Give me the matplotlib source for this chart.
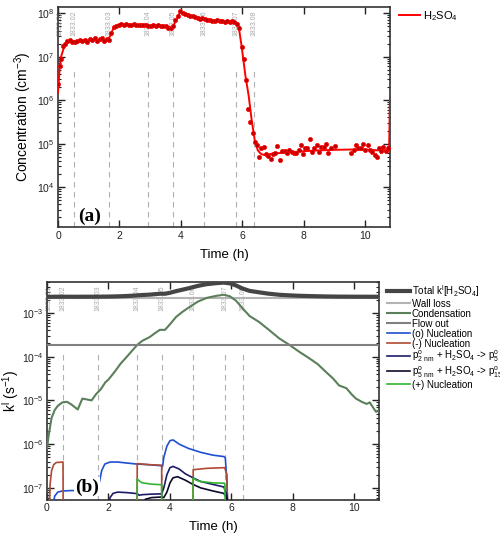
import numpy as np
import matplotlib
matplotlib.use('Agg')
import matplotlib.pyplot as plt
from matplotlib.ticker import NullLocator, LogLocator

plt.rcParams['font.family'] = ['Liberation Sans', 'DejaVu Sans']
plt.rcParams['mathtext.default'] = 'regular'

# runs
run_names = ['1833.01', '1833.02', '1833.03', '1833.04', '1833.05', '1833.06', '1833.07', '1833.08']
run_starts = [0.05, 0.52, 1.66, 2.93, 3.74, 4.76, 5.79, 6.38]

# panel (a): measured H2SO4 (points)
t_meas = [0.00, 0.05, 0.10, 0.15, 0.22, 0.30, 0.38, 0.46, 0.55, 0.63, 0.71, 0.79, 0.87, 0.95,
          1.03, 1.11, 1.19, 1.27, 1.35, 1.43, 1.51, 1.59, 1.66, 1.74, 1.82, 1.90, 1.98, 2.06,
          2.14, 2.22, 2.30, 2.38, 2.46, 2.54, 2.62, 2.70, 2.78, 2.86, 2.94, 3.02, 3.10, 3.18,
          3.26, 3.34, 3.42, 3.50, 3.58, 3.66, 3.74, 3.82, 3.90, 3.98, 4.06, 4.14, 4.22, 4.30,
          4.38, 4.46, 4.54, 4.62, 4.70, 4.78, 4.86, 4.94, 5.02, 5.10, 5.18, 5.26, 5.34, 5.42,
          5.50, 5.58, 5.66, 5.74, 5.82, 5.89, 5.97, 6.05, 6.12, 6.17, 6.25, 6.33, 6.40, 6.47,
          6.55, 6.61, 6.69, 6.77, 6.84, 6.92, 6.99, 7.07, 7.14, 7.22, 7.30, 7.37, 7.45, 7.53,
          7.60, 7.68, 7.75, 7.83, 7.90, 7.96, 8.04, 8.11, 8.19, 8.26, 8.34, 8.42, 8.49, 8.57,
          8.64, 8.72, 8.79, 8.87, 9.01, 9.54, 9.62, 9.70, 9.77, 9.85, 9.92, 10.00, 10.07, 10.15,
          10.22, 10.30, 10.37, 10.43, 10.51, 10.58, 10.66, 10.72]
c_meas = [2.3e6, 6e6, 9e6, 1.8e7, 2.0e7, 2.3e7, 2.4e7, 2.2e7, 2.2e7, 2.3e7, 2.4e7, 2.3e7, 2.4e7, 2.2e7,
          2.6e7, 2.4e7, 2.7e7, 2.3e7, 2.5e7, 2.7e7, 2.3e7, 2.5e7, 2.4e7, 3.5e7, 4.8e7, 5.2e7, 5.5e7, 5.6e7,
          5.3e7, 5.7e7, 5.5e7, 5.4e7, 5.8e7, 5.5e7, 5.4e7, 5.5e7, 5.3e7, 5.4e7, 5.2e7, 5.0e7, 5.4e7, 5.1e7,
          5.3e7, 5.0e7, 5.2e7, 5.0e7, 4.7e7, 4.5e7, 5.0e7, 7.0e7, 8.5e7, 1.1e8, 1.0e8, 9.5e7, 9.0e7, 8.5e7,
          8.7e7, 8.0e7, 7.8e7, 7.5e7, 7.6e7, 7.2e7, 7.0e7, 7.1e7, 6.8e7, 6.6e7, 6.9e7, 6.5e7, 6.6e7, 6.4e7,
          6.7e7, 6.3e7, 6.5e7, 6.2e7, 5.8e7, 4.5e7, 1.7e7, 9e6, 2.9e6, 6.2e5, 3.2e5, 1.8e5, 1.1e5, 9.3e4,
          5.0e4, 7.8e4, 8.2e4, 5.8e4, 5.2e4, 4.5e4, 5.8e4, 6.0e4, 9.0e4, 4.2e4, 6.9e4, 6.9e4, 6.0e4, 7.1e4,
          6.3e4, 6.0e4, 6.2e4, 7.1e4, 9.1e4, 5.8e4, 7.8e4, 7.8e4, 1.25e5, 6.4e4, 7.8e4, 9.5e4, 6.4e4, 8.2e4,
          8.2e4, 1.0e5, 6.0e4, 7.8e4, 9.0e4, 6.2e4, 7.3e4, 9.5e4, 7.8e4, 7.8e4, 1.0e5, 7.1e4, 9.3e4, 7.1e4,
          6.4e4, 5.6e4, 4.8e4, 8.0e4, 6.9e4, 8.2e4, 6.9e4, 7.8e4]

# panel (a): fitted line
t_fit = [0.00, 0.05, 0.10, 0.20, 0.30, 0.50, 1.00, 1.60, 1.70, 1.80, 1.90, 2.10, 3.00, 3.60, 3.72,
         3.85, 3.98, 4.20, 4.60, 5.00, 5.50, 5.80, 5.88, 5.97, 6.10, 6.20, 6.30, 6.40, 6.50, 6.60,
         6.70, 7.00, 7.50, 8.00, 8.50, 9.00, 9.50, 10.00, 10.40, 10.70, 10.77, 10.80]
c_fit = [1.5e6, 5e6, 1e7, 1.7e7, 2.1e7, 2.3e7, 2.4e7, 2.4e7, 3.0e7, 4.5e7, 5.2e7, 5.5e7, 5.2e7, 4.8e7, 4.6e7,
         7e7, 1.1e8, 9.2e7, 7.8e7, 7.0e7, 6.5e7, 6.2e7, 4.8e7, 1.8e7, 3.5e6, 1.3e6, 3.5e5, 1.2e5, 7e4, 5.8e4,
         5.5e4, 5.9e4, 6.3e4, 6.7e4, 7.0e4, 7.2e4, 7.3e4, 7.3e4, 7.0e4, 6.9e4, 7.0e4, 1.2e6]

# panel (b): loss rates
wall_loss = 2.15e-3
flow_out = 1.85e-4
t_cond = [0.00, 0.05, 0.10, 0.15, 0.25, 0.35, 0.50, 0.65, 0.80, 1.00, 1.15, 1.30, 1.45, 1.60, 1.75,
          1.90, 2.00, 2.20, 2.40, 2.60, 2.80, 2.95, 3.10, 3.34, 3.50, 3.67, 3.84, 4.00, 4.20, 4.40,
          4.64, 4.90, 5.19, 5.50, 5.75, 5.95, 6.15, 6.35, 6.59, 6.90, 7.20, 7.56, 7.89, 8.20, 8.50,
          8.80, 9.10, 9.30, 9.50, 9.74, 9.90, 10.05, 10.25, 10.40, 10.50, 10.60, 10.70, 10.80]
k_cond = [8e-7, 1.5e-6, 2.5e-6, 4.0e-6, 6.0e-6, 7.5e-6, 9.0e-6, 9.3e-6, 8.0e-6, 6.2e-6, 1.1e-5, 1.05e-5, 1.0e-5, 1.4e-5, 1.8e-5,
          2.6e-5, 3.0e-5, 4.5e-5, 7e-5, 1.0e-4, 1.45e-4, 1.9e-4, 2.3e-4, 2.8e-4, 3.4e-4, 4.1e-4, 4.1e-4, 5.5e-4, 8.1e-4, 1.05e-3,
          1.37e-3, 1.8e-3, 2.2e-3, 2.45e-3, 2.6e-3, 2.4e-3, 1.9e-3, 1.3e-3, 8.5e-4, 6.2e-4, 4.2e-4, 2.6e-4, 1.85e-4, 1.3e-4, 9.5e-5,
          6.8e-5, 4.3e-5, 3.2e-5, 2.2e-5, 1.9e-5, 1.4e-5, 1.1e-5, 9.2e-6, 8.3e-6, 9e-6, 7e-6, 5.5e-6, 5.8e-6]

t_nuc0 = [0.15, 0.20, 0.25, 0.35, 0.50, 0.80, 1.20, 1.62, 1.70, 1.78, 1.88, 2.05, 2.30, 2.60, 2.93,
          3.30, 3.73, 3.76, 3.80, 3.90, 4.00, 4.10, 4.30, 4.60, 5.00, 5.40, 5.75, 5.80, 5.85, 5.90]
k_nuc0 = [1e-8, 4e-8, 6.5e-8, 8e-8, 8.5e-8, 8.7e-8, 8.5e-8, 8.2e-8, 1.3e-7, 2.5e-7, 3.5e-7, 3.9e-7, 3.9e-7, 3.7e-7, 3.5e-7,
          3.4e-7, 3.2e-7, 3.1e-7, 5e-7, 9e-7, 1.2e-6, 1.25e-6, 1.0e-6, 8e-7, 6.5e-7, 5.6e-7, 5.2e-7, 4.9e-7, 1.5e-7, 1e-8]

t_nucm = [0.05, 0.10, 0.15, 0.22, 0.30, 0.52, 0.53, np.nan, 2.93, 2.935, 3.30, 3.73, 3.735, np.nan,
          4.75, 4.755, 5.20, 5.78, 5.85, 5.90]
k_nucm = [1e-8, 1.2e-7, 2.5e-7, 3.4e-7, 3.8e-7, 3.9e-7, 1e-8, np.nan, 1e-8, 3.6e-7, 3.4e-7, 3.3e-7, 1e-8, np.nan,
          1e-8, 2.6e-7, 2.8e-7, 2.9e-7, 2e-7, 1e-8]

t_nucp = [2.93, 2.935, 3.00, 3.10, 3.40, 3.73, 3.735, np.nan, 4.75, 4.755, 4.85, 5.00, 5.40, 5.78, 5.82]
k_nucp = [1e-8, 1.6e-7, 1.45e-7, 1.3e-7, 1.22e-7, 1.18e-7, 1e-8, np.nan, 1e-8, 1.7e-7, 1.5e-7, 1.4e-7, 1.3e-7, 1.28e-7, 1e-8]

t_p2 = [1.95, 2.05, 2.15, 2.30, 2.60, 2.93, 3.00, 3.10, 3.40, 3.73, 3.80, 3.90, 4.00, 4.10, 4.30,
        4.50, 4.75, 5.00, 5.40, 5.75, 5.85, 5.95]
k_p2 = [1e-8, 6e-8, 7.5e-8, 8e-8, 7.8e-8, 7.4e-8, 6.8e-8, 7e-8, 7.2e-8, 7.3e-8, 1.0e-7, 2.0e-7, 2.9e-7, 3.1e-7, 2.7e-7,
        2.1e-7, 1.7e-7, 1.4e-7, 1.2e-7, 1.05e-7, 7e-8, 1e-8]

t_p5 = [3.10, 3.20, 3.40, 3.73, 3.80, 3.90, 4.00, 4.10, 4.25, 4.50, 4.75, 5.00, 5.40, 5.75, 5.85, 5.95]
k_p5 = [1e-8, 5.5e-8, 6e-8, 6.2e-8, 6e-8, 8e-8, 1.3e-7, 1.7e-7, 1.8e-7, 1.5e-7, 1.2e-7, 1.0e-7, 8.5e-8, 7.5e-8, 6e-8, 1e-8]

# total = wall loss + flow out + condensation
k_total = wall_loss + flow_out + np.array(k_cond)


def style_axes(ax):
    ax.set_yscale('log')
    ax.set_xlim(0, 10.8)
    ax.set_xticks([0, 2, 4, 6, 8, 10])
    ax.xaxis.set_minor_locator(NullLocator())
    ax.yaxis.set_minor_locator(LogLocator(base=10, subs=np.arange(2, 10), numticks=20))
    ax.tick_params(which='both', direction='in', top=True, right=True, labelsize=7.5,
                   colors='#222222', pad=2.5)
    ax.tick_params(which='major', length=5, width=1)
    ax.tick_params(which='minor', length=2.5, width=0.8)
    for s in ax.spines.values():
        s.set_linewidth(1.2)
        s.set_color('#333333')


def run_marks(ax, y_low, y_high):
    ax.vlines(run_starts[1:], y_low, y_high, colors='#b0b0b0', linewidth=0.8, linestyles=(0, (5, 4)), zorder=1)
    trans = ax.get_xaxis_transform()
    for t, name in zip(run_starts, run_names):
        ax.text(t, 0.985, name, transform=trans, rotation=90, ha='center', va='top',
                fontsize=5, color='#a8a8a8', zorder=2)


fig = plt.figure(figsize=(5, 5.33), dpi=100)
ax_a = fig.add_axes([0.116, 0.574, 0.664, 0.413])
ax_b = fig.add_axes([0.094, 0.062, 0.664, 0.409])

# ---- panel (a)
style_axes(ax_a)
ax_a.set_ylim(1.2e3, 1.4e8)
run_marks(ax_a, 1.2e3, 5e6)
ax_a.plot(t_fit, c_fit, color='#ff0000', linewidth=1.4, label='H$_2$SO$_4$', zorder=3)
ax_a.plot(t_meas, c_meas, linestyle='none', marker='o', markersize=3, markerfacecolor='#c00000',
          markeredgecolor='#ff0000', markeredgewidth=0.5, zorder=4)
ax_a.set_xlabel('Time (h)', fontsize=9.5)
ax_a.set_ylabel('Concentration (cm$^{-3}$)', fontsize=10)
ax_a.xaxis.set_label_coords(0.5, -0.1)
ax_a.yaxis.set_label_coords(-0.072, 0.5)
ax_a.text(0.06, 0.05, '(a)', transform=ax_a.transAxes, fontsize=14, fontweight='bold',
          family='Liberation Serif', va='center', ha='left')
ax_a.legend(loc='upper left', bbox_to_anchor=(1.02, 1.0), frameon=False, fontsize=8,
            handlelength=1.9, handletextpad=0.3, borderaxespad=0, borderpad=0.2)

# ---- panel (b)
style_axes(ax_b)
ax_b.set_ylim(5.3e-8, 5.1e-3)
run_marks(ax_b, 5.3e-8, 1.4e-4)
ax_b.plot(t_cond, k_total, color='#454545', linewidth=3, label='Total k$^{l}$[H$_2$SO$_4$]', zorder=5)
ax_b.axhline(wall_loss, color='#b4b4b4', linewidth=1.5, label='Wall loss', zorder=4)
ax_b.plot(t_cond, k_cond, color='#5b7f5b', linewidth=1.5, label='Condensation', zorder=4)
ax_b.axhline(flow_out, color='#808080', linewidth=1.5, label='Flow out', zorder=4)
ax_b.plot(t_nuc0, k_nuc0, color='#1f4fd0', linewidth=1.2, label='(o) Nucleation', zorder=3)
ax_b.plot(t_nucm, k_nucm, color='#b04a32', linewidth=1.2, label='(-) Nucleation', zorder=3)
ax_b.plot(t_p2, k_p2, color='#1c1c68', linewidth=1.2,
          label='p$^{o}_{2\\ nm}$ + H$_2$SO$_4$ -> p$^{o}_{5\\ nm}$', zorder=3)
ax_b.plot(t_p5, k_p5, color='#0c0c2c', linewidth=1.2,
          label='p$^{o}_{5\\ nm}$ + H$_2$SO$_4$ -> p$^{o}_{15\\ nm}$', zorder=3)
ax_b.plot(t_nucp, k_nucp, color='#2fb52f', linewidth=1.2, label='(+) Nucleation', zorder=3)
ax_b.set_xlabel('Time (h)', fontsize=9.5)
ax_b.set_ylabel('k$^{l}$ (s$^{-1}$)', fontsize=10)
ax_b.xaxis.set_label_coords(0.5, -0.095)
ax_b.yaxis.set_label_coords(-0.078, 0.5)
ax_b.text(0.084, 0.06, '(b)', transform=ax_b.transAxes, fontsize=14, fontweight='bold',
          family='Liberation Serif', va='center', ha='left', zorder=6,
          bbox=dict(facecolor='white', edgecolor='none', pad=0.5))
ax_b.legend(loc='upper left', bbox_to_anchor=(1.02, 1.0), frameon=False, fontsize=7,
            handlelength=2.4, handletextpad=0.2, borderaxespad=0, borderpad=0.1, labelspacing=0.0)

fig.savefig('out.png', dpi=100)
